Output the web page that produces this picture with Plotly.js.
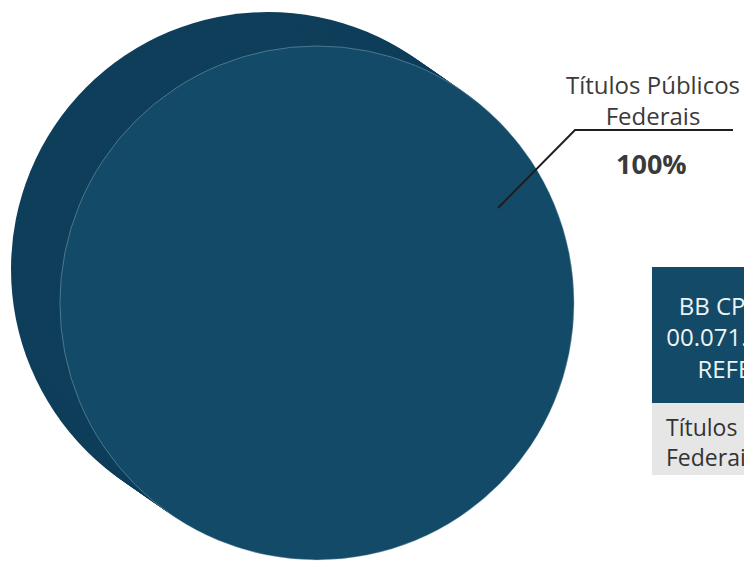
<!DOCTYPE html>
<html>
<head>
<meta charset="utf-8">
<script src="https://cdn.plot.ly/plotly-3.0.1.min.js"></script>
<style>
html, body { margin:0; padding:0; width:744px; height:571px; overflow:hidden; background:#fff; }
#chart { width:880px; height:571px; }
</style>
</head>
<body>
<div id="chart"></div>
<script>
// ---- data ----
const categories = ['Títulos Públicos Federais'];
const values = [100];
const categoryLines = ['Títulos Públicos', 'Federais'];
const fundHeaderLines = ['BB CP FEDERAL', '00.071.477/0001-68', 'REFERENCIADO'];

// ---- layout constants ----
const W = 880, H = 571;
const frontFace = '#124a67';
const sideFace = '#0e3e5a';
const px = (x) => x / W;
const py = (y) => (H - y) / H;
const NB = '\u00a0';

function pieLayer(cx, cy, r, color, lineColor, lineWidth) {
  return {
    type: 'pie',
    labels: categories,
    values: values,
    sort: false,
    textinfo: 'none',
    hoverinfo: 'label+percent',
    showlegend: false,
    marker: { colors: [color], line: { color: lineColor, width: lineWidth } },
    domain: { x: [px(cx - r), px(cx + r)], y: [py(cy + r), py(cy - r)] }
  };
}

const traces = [];
const R = 257;
const front = { x: 317, y: 303 };
const back = { x: 268, y: 269 };
const N = 14;
for (let i = 0; i < N; i++) {
  const t = i / N;
  traces.push(pieLayer(back.x + (front.x - back.x) * t, back.y + (front.y - back.y) * t, R, sideFace, sideFace, 0));
}
traces.push(pieLayer(front.x, front.y, R, frontFace, 'rgba(170,200,215,0.55)', 0.7));

// table: base font 8 so that blank lines give fine vertical steps; lines centred by indents
const headerIndent = [3, 1, 6];
const big = (s, i) => '<span style="font-size:24px">' + NB.repeat(headerIndent[i]) + s + '</span>';
const headerText = NB + '<br><br><br>' + fundHeaderLines.map(big).join('<br><br><br>');
const cellText = categoryLines.map(s => NB + s).join('<br>');
const pct = values.map(v => v + '%');
traces.push({
  type: 'table',
  domain: { x: [px(652), px(872)], y: [py(475), py(267)] },
  columnwidth: [1],
  header: {
    values: [[headerText]],
    align: ['left'],
    height: 136,
    fill: { color: frontFace },
    line: { color: frontFace, width: 0 },
    font: { family: 'Open Sans', size: 8, color: '#eef3f6' }
  },
  cells: {
    values: [[cellText]],
    align: ['left'],
    height: 72,
    fill: { color: '#e6e6e7' },
    line: { color: '#e6e6e7', width: 0 },
    font: { family: 'Open Sans', size: 23, color: '#333333' }
  }
});

const layout = {
  width: W, height: H,
  margin: { l: 0, r: 0, t: 0, b: 0 },
  paper_bgcolor: '#ffffff',
  plot_bgcolor: '#ffffff',
  showlegend: false,
  shapes: [
    { type: 'path', xref: 'paper', yref: 'paper',
      path: 'M ' + px(498) + ' ' + py(208) + ' L ' + px(575) + ' ' + py(130) + ' L ' + px(733) + ' ' + py(130),
      line: { color: '#1e1e1e', width: 2 } }
  ],
  annotations: [
    { xref: 'paper', yref: 'paper', x: px(653), y: py(134), xanchor: 'center', yanchor: 'bottom',
      text: categoryLines.join('<br>'), showarrow: false,
      font: { family: 'Open Sans', size: 24, color: '#3a3a3a' } },
    { xref: 'paper', yref: 'paper', x: px(651), y: py(163), xanchor: 'center', yanchor: 'middle',
      text: '<b>' + pct[0] + '</b>', showarrow: false,
      font: { family: 'Open Sans', size: 27, color: '#3a3a3a' } }
  ]
};

Plotly.newPlot('chart', traces, layout, { staticPlot: true, displayModeBar: false });
</script>
</body>
</html>
